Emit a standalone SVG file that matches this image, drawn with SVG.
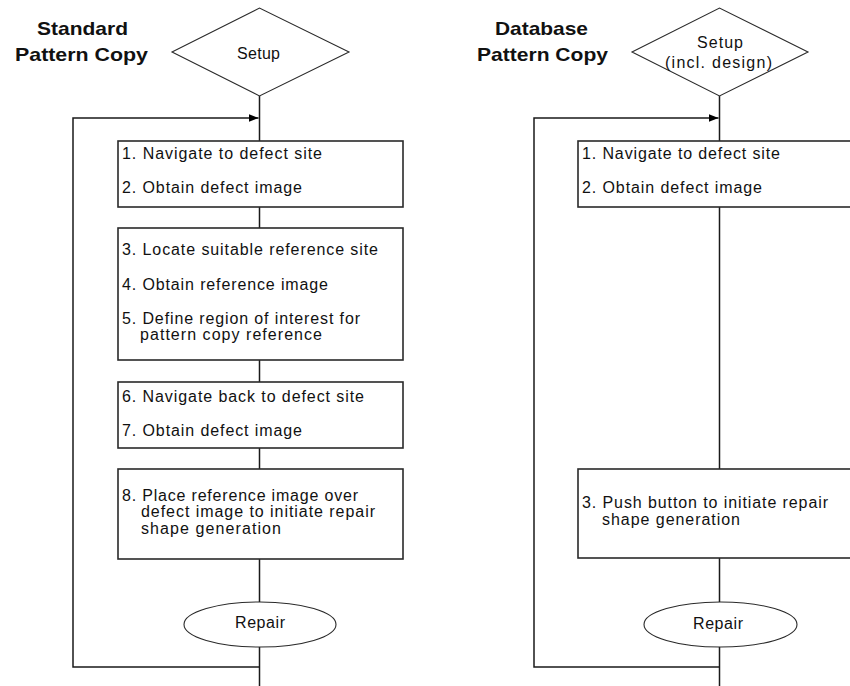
<svg xmlns="http://www.w3.org/2000/svg" width="850" height="686" viewBox="0 0 850 686">
<defs>
<style>
.box{fill:#fff;stroke:#2a2a2a;stroke-width:1.6}
.shape{fill:#fff;stroke:#2a2a2a;stroke-width:1.1}
.conn{fill:none;stroke:#1a1a1a;stroke-width:1.5}
.t{font-family:"Liberation Sans",Arial,sans-serif;font-size:16px;fill:#111}
.title{font-family:"Liberation Sans",Arial,sans-serif;font-size:19px;font-weight:bold;fill:#111}
</style>
<marker id="arr" markerUnits="userSpaceOnUse" markerWidth="11" markerHeight="9" refX="10" refY="4.5" orient="auto">
<path d="M0,0.5 L10,4.5 L0,8.5 Z" fill="#000"/>
</marker>
</defs>
<rect width="850" height="686" fill="#fff"/>

<g id="connectors">
<path class="conn" d="M259.5,96 V141 M259.5,207 V228 M259.5,360 V382 M259.5,448 V469 M259.5,559 V602 M259.5,647 V686"/>
<path class="conn" d="M259.5,667 H73 V118 H258.5" marker-end="url(#arr)"/>
<path class="conn" d="M719.5,96 V141 M719.5,207 V469 M719.5,558 V602 M719.5,647 V686"/>
<path class="conn" d="M719.5,667 H534 V118 H718.5" marker-end="url(#arr)"/>
</g>

<g id="title-left">
<text class="title" x="37" y="35" textLength="91" lengthAdjust="spacingAndGlyphs">Standard</text>
<text class="title" x="15" y="61" textLength="133" lengthAdjust="spacingAndGlyphs">Pattern Copy</text>
</g>
<g id="title-right">
<text class="title" x="495" y="35" textLength="93" lengthAdjust="spacingAndGlyphs">Database</text>
<text class="title" x="477" y="61" textLength="131" lengthAdjust="spacingAndGlyphs">Pattern Copy</text>
</g>

<g id="setup-left">
<polygon class="shape" points="172,52 259.5,8 349,52 259.5,96"/>
<text class="t" x="237" y="59" textLength="43">Setup</text>
</g>
<g id="step-left-1">
<rect class="box" x="118" y="141" width="285" height="66"/>
<text class="t" x="122" y="159" textLength="200">1. Navigate to defect site</text>
<text class="t" x="122" y="193" textLength="180">2. Obtain defect image</text>
</g>
<g id="step-left-2">
<rect class="box" x="118" y="228" width="285" height="132"/>
<text class="t" x="122" y="255" textLength="256">3. Locate suitable reference site</text>
<text class="t" x="122" y="290" textLength="206">4. Obtain reference image</text>
<text class="t" x="122" y="324" textLength="238">5. Define region of interest for</text>
<text class="t" x="140" y="340" textLength="182">pattern copy reference</text>
</g>
<g id="step-left-3">
<rect class="box" x="118" y="382" width="285" height="66"/>
<text class="t" x="122" y="402" textLength="242">6. Navigate back to defect site</text>
<text class="t" x="122" y="436" textLength="180">7. Obtain defect image</text>
</g>
<g id="step-left-4">
<rect class="box" x="118" y="469" width="285" height="90"/>
<text class="t" x="122" y="501" textLength="236">8. Place reference image over</text>
<text class="t" x="141" y="517" textLength="234">defect image to initiate repair</text>
<text class="t" x="141" y="534" textLength="140">shape generation</text>
</g>
<g id="repair-left">
<ellipse class="shape" cx="260" cy="624.5" rx="76" ry="22.5"/>
<text class="t" x="235" y="628" textLength="50">Repair</text>
</g>

<g id="setup-right">
<polygon class="shape" points="632,52 719.5,8 808,52 719.5,96"/>
<text class="t" x="697" y="48" textLength="46">Setup</text>
<text class="t" x="665" y="68" textLength="107">(incl. design)</text>
</g>
<g id="step-right-1">
<rect class="box" x="578" y="141" width="292" height="66"/>
<text class="t" x="582" y="159" textLength="198">1. Navigate to defect site</text>
<text class="t" x="582" y="193" textLength="180">2. Obtain defect image</text>
</g>
<g id="step-right-2">
<rect class="box" x="578" y="469" width="292" height="89"/>
<text class="t" x="582" y="508" textLength="246">3. Push button to initiate repair</text>
<text class="t" x="602" y="525" textLength="138">shape generation</text>
</g>
<g id="repair-right">
<ellipse class="shape" cx="720.5" cy="624.5" rx="76.5" ry="22.5"/>
<text class="t" x="693" y="629" textLength="50">Repair</text>
</g>
</svg>
